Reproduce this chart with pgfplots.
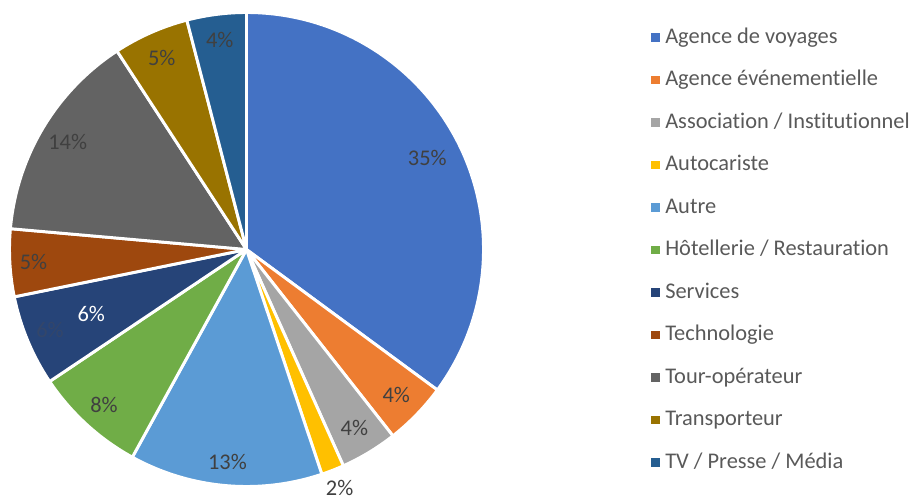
\documentclass[border=0pt]{standalone}
\usepackage{pgfplots}
\usepackage{pgfplotstable}
\pgfplotsset{compat=1.18}
\usepackage{fontspec}
\setmainfont[Ligatures=NoCommon]{Carlito}
\definecolor{cA}{HTML}{4472C4}
\definecolor{cB}{HTML}{ED7D31}
\definecolor{cC}{HTML}{A5A5A5}
\definecolor{cD}{HTML}{FFC000}
\definecolor{cE}{HTML}{5B9BD5}
\definecolor{cF}{HTML}{70AD47}
\definecolor{cG}{HTML}{264478}
\definecolor{cH}{HTML}{9E480E}
\definecolor{cI}{HTML}{636363}
\definecolor{cJ}{HTML}{997300}
\definecolor{cK}{HTML}{255E91}
\definecolor{lab}{HTML}{404040}
\definecolor{leg}{HTML}{595959}
\definecolor{ghost}{HTML}{33466A}

\pgfplotstableread[col sep=comma]{
name,value,col,lr,lcol
Agence de voyages,35.1,cA,0.855,lab
Agence événementielle,4.3,cB,0.88,lab
Association / Institutionnel,3.9,cC,0.88,lab
Autocariste,1.55,cD,1.08,lab
Autre,13.15,cE,0.9,lab
Hôtellerie / Restauration,7.6,cF,0.89,lab
Services,6.2,cG,0.71,white
Technologie,4.6,cH,0.9,lab
Tour-opérateur,14.4,cI,0.88,lab
Transporteur,5.15,cJ,0.885,lab
TV / Presse / Média,4.05,cK,0.89,lab
}\pietable

\begin{document}
\begin{tikzpicture}
\begin{axis}[
  scale only axis,
  width=684.75pt, height=375.75pt,
  xmin=0, xmax=913, ymin=0, ymax=501,
  hide axis, clip=false,
]
\pgfplotsextra{
  \path (axis cs:0,0) rectangle (axis cs:913,501);
  \def\R{177.75}
  \gdef\cum{0}
  \pgfplotstablegetrowsof{\pietable}
  \pgfmathtruncatemacro\nrows{\pgfplotsretval-1}
  \foreach \i in {0,...,\nrows}{
    \pgfplotstablegetelem{\i}{value}\of\pietable \let\v\pgfplotsretval
    \pgfplotstablegetelem{\i}{col}\of\pietable \let\c\pgfplotsretval
    \pgfmathsetmacro\a{90-3.6*\cum}
    \pgfmathsetmacro\b{90-3.6*(\cum+\v)}
    \fill[color=\c, draw=white, line width=2.2pt, line join=round]
      (axis cs:246.5,251.5) -- ++(\a:\R pt) arc[start angle=\a, end angle=\b, radius=\R pt] -- cycle;
    \pgfmathsetmacro\newcum{\cum+\v}
    \xdef\cum{\newcum}
  }
  \gdef\cum{0}
  \foreach \i in {0,...,\nrows}{
    \pgfplotstablegetelem{\i}{value}\of\pietable \let\v\pgfplotsretval
    \pgfplotstablegetelem{\i}{lr}\of\pietable \let\lr\pgfplotsretval
    \pgfplotstablegetelem{\i}{lcol}\of\pietable \let\lc\pgfplotsretval
    \pgfmathsetmacro\m{90-3.6*(\cum+\v/2)}
    \pgfmathsetmacro\rr{\lr*\R}
    \node[text=\lc, inner sep=0pt, font=\fontsize{16.8}{20}\selectfont]
      at ([shift={(\m:\rr pt)}]axis cs:246.5,251.5)
      {\pgfmathprintnumber[fixed,precision=0,assume math mode=true]{\v}\%};
    \pgfmathsetmacro\newcum{\cum+\v}
    \xdef\cum{\newcum}
  }
  \node[text=ghost, inner sep=0pt, font=\fontsize{16.8}{20}\selectfont] at (axis cs:50,171) {6\%};
  \foreach \i in {0,...,\nrows}{
    \pgfplotstablegetelem{\i}{name}\of\pietable \let\nm\pgfplotsretval
    \pgfplotstablegetelem{\i}{col}\of\pietable \let\c\pgfplotsretval
    \pgfmathsetmacro\yc{501-(37.5+42.5*\i)}
    \pgfmathsetmacro\yb{501-(43.3+42.5*\i)}
    \fill[color=\c] (axis cs:651,\yc-4.25) rectangle (axis cs:659.5,\yc+4.25);
    \node[anchor=base west, inner sep=0pt, text=leg, font=\fontsize{16.8}{20}\selectfont]
      at (axis cs:665,\yb) {\nm};
  }
}
\end{axis}
\end{tikzpicture}
\end{document}
